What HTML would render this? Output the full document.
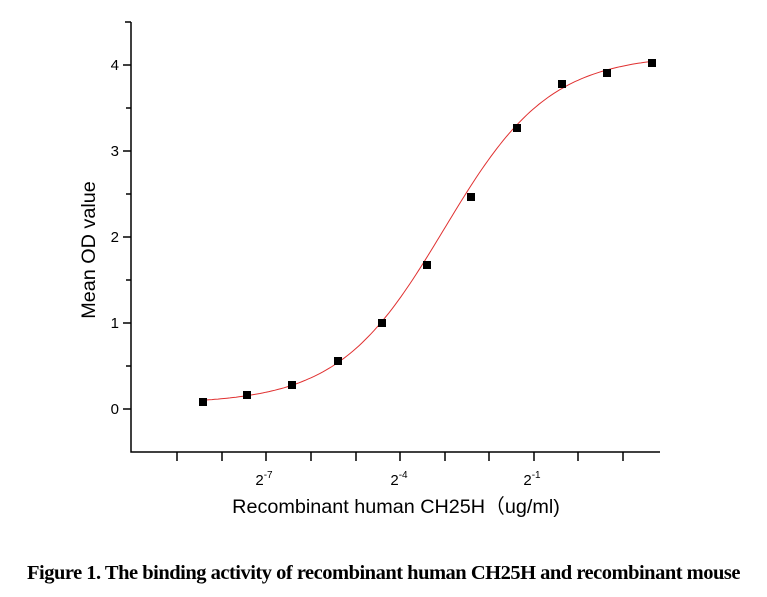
<!DOCTYPE html>
<html><head><meta charset="utf-8"><style>
html,body{margin:0;background:#fff;width:767px;height:597px;overflow:hidden;position:relative}
svg{position:absolute;left:0;top:0}
.cap{position:absolute;left:0;width:767px;top:562px;text-align:center;font-family:"Liberation Serif",serif;font-weight:bold;font-size:20.5px;letter-spacing:-0.5px;white-space:nowrap}
.cap2{position:absolute;left:0;width:767px;top:594px;text-align:center;font-family:"Liberation Serif",serif;font-weight:bold;font-size:20.5px}
</style></head><body>
<svg width="767" height="597" id="s" font-family="Liberation Sans, sans-serif">
<g stroke="#000" stroke-width="1.5" fill="none">
<path d="M131,22V452H660"/>
<path d="M125,22H131M123,65H131M126,108H131M123,151H131M126,194H131M123,237H131M126,280H131M123,323H131M126,366H131M123,409H131"/>
<path d="M177,452v9M222,452v9M266,452v9M311,452v9M356,452v9M400,452v9M445,452v9M489,452v9M534,452v9M578,452v9M623,452v9"/>
</g>
<g font-size="15" text-anchor="end">
<text x="119" y="70">4</text><text x="119" y="156">3</text><text x="119" y="242">2</text><text x="119" y="328">1</text><text x="119" y="414">0</text>
</g>
<g font-size="15" text-anchor="middle">
<text x="264" y="485">2<tspan font-size="10" dy="-7">-7</tspan></text>
<text x="399" y="485">2<tspan font-size="10" dy="-7">-4</tspan></text>
<text x="532" y="485">2<tspan font-size="10" dy="-7">-1</tspan></text>
</g>
<text x="396" y="513" font-size="19.8" text-anchor="middle">Recombinant human CH25H（ug/ml)</text>
<text transform="translate(95,250) rotate(-90)" font-size="19.8" text-anchor="middle">Mean OD value</text>
<path id="c" stroke="#e03030" stroke-width="1" fill="none" d=""/>
<g fill="#000">
<rect x="199" y="398" width="8" height="8"/><rect x="243" y="391" width="8" height="8"/>
<rect x="288" y="381" width="8" height="8"/><rect x="334" y="357" width="8" height="8"/>
<rect x="378" y="319" width="8" height="8"/><rect x="423" y="261" width="8" height="8"/>
<rect x="467" y="193" width="8" height="8"/><rect x="513" y="124" width="8" height="8"/>
<rect x="558" y="80" width="8" height="8"/><rect x="603" y="69" width="8" height="8"/>
<rect x="648" y="59" width="8" height="8"/>
</g>
</svg>
<div class="cap">Figure 1. The binding activity of recombinant human CH25H and recombinant mouse</div>
<div class="cap2">CH25H</div>
<script>
var d="";for(var x=203;x<=652;x+=3){var v=0.06+(4.12-0.06)/(1+Math.exp(-(x-444)/52.8));var y=409-86*v;d+=(x==203?"M":"L")+x+","+y.toFixed(1);}
document.getElementById("c").setAttribute("d",d);
</script>
</body></html>
